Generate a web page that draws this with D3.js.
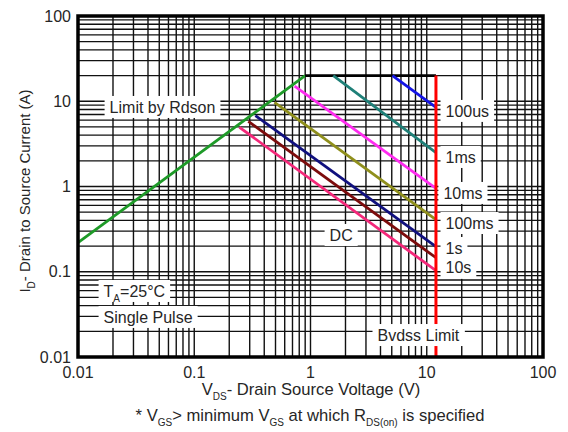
<!DOCTYPE html>
<html>
<head>
<meta charset="utf-8">
<script src="https://cdn.jsdelivr.net/npm/d3@7"></script>
<style>
	body { margin: 0; background: #fff; }
	text { font-family: "Liberation Sans", Arial, sans-serif; fill: #262626; }
</style>
</head>
<body>
<svg id="chart" width="568" height="432"></svg>
<script>
// decade ticks for both log axes
const decades = [0.01, 0.1, 1, 10, 100],
	tick_labels = ["0.01", "0.1", "1", "10", "100"];

// Rds(on) limit line (V, A)
const rdson_v = [0.01, 0.9],
	rdson_i = [0.22, 20];

// package current limit
const limit_v = [0.9, 12],
	limit_i = [20, 20];

// breakdown voltage
const bvdss = 12;

// pulse lines: start (v0, i0) and end at bvdss (i1)
const pulse_names = ["100us", "1ms", "10ms", "100ms", "1s", "10s", "DC"],
	pulse_v0 = [5.07, 1.57, 0.73, 0.49, 0.336, 0.292, 0.245],
	pulse_i0 = [20, 20, 15, 9.7, 6.8, 5.8, 4.95],
	pulse_i1 = [8.5, 2.5, 0.95, 0.41, 0.197, 0.146, 0.103],
	pulse_colors = ["#1414e6", "#1f8078", "#ff2cf0", "#8f8f1c", "#10107e", "#7c0c0c", "#f4287a"];

// in-plot annotations, anchored in data units (left edge, middle)
const notes = [
	{text: "Limit by Rdson", v: 0.0187, i: 8.57},
	{text: "100us", v: 14.5, i: 7.7},
	{text: "1ms", v: 14.5, i: 2.22},
	{text: "10ms", v: 13.9, i: 0.84},
	{text: "100ms", v: 14.5, i: 0.373},
	{text: "1s", v: 14.5, i: 0.19},
	{text: "10s", v: 14.5, i: 0.111},
	{text: "DC", v: 1.46, i: 0.27},
	{text: "Single Pulse", v: 0.0166, i: 0.0295},
	{text: "Bvdss Limit", v: 3.77, i: 0.0181}
];

const params = {
	left: 78, right: 543, top: 16, bottom: 357,
	grid_width: 1.4,
	curve_width: 2.8,
	font_size: 16
};

const svg = d3.select("#chart");

const x = d3.scaleLog().domain([0.01, 100]).range([params.left, params.right]),
	y = d3.scaleLog().domain([0.01, 100]).range([params.bottom, params.top]);

// minor + major grid values: 1..9 x each decade
function grid_values(lo, hi) {
	let out = [];
	for (let d = lo; d < hi * 0.999; d *= 10) {
		for (let k = 1; k <= 9; k++) out.push(d * k);
	}
	out.push(hi);
	return out;
}
const gx = grid_values(0.01, 100),
	gy = grid_values(0.01, 100);

const grid = svg.append("g").attr("stroke", "#111").attr("stroke-width", params.grid_width);
grid.selectAll("line.v").data(gx).join("line")
	.attr("class", "v")
	.attr("x1", d => x(d)).attr("x2", d => x(d))
	.attr("y1", params.top).attr("y2", params.bottom);
grid.selectAll("line.h").data(gy).join("line")
	.attr("class", "h")
	.attr("y1", d => y(d)).attr("y2", d => y(d))
	.attr("x1", params.left).attr("x2", params.right);

// curves
const line = d3.line().x(d => x(d[0])).y(d => y(d[1]));
const curves = svg.append("g").attr("fill", "none").attr("stroke-width", params.curve_width);

curves.append("path")
	.attr("d", line(rdson_v.map((v, i) => [v, rdson_i[i]])))
	.attr("stroke", "#1e9a28");
curves.append("path")
	.attr("d", line(limit_v.map((v, i) => [v, limit_i[i]])))
	.attr("stroke", "#000");

pulse_names.forEach((name, i) => {
	curves.append("path")
		.attr("d", line([[pulse_v0[i], pulse_i0[i]], [bvdss, pulse_i1[i]]]))
		.attr("stroke", pulse_colors[i]);
});

curves.append("path")
	.attr("d", line([[bvdss, 20], [bvdss, 0.01]]))
	.attr("stroke", "#ff0000")
	.attr("stroke-width", 3);

// plot border
svg.append("rect")
	.attr("x", params.left).attr("y", params.top)
	.attr("width", params.right - params.left)
	.attr("height", params.bottom - params.top)
	.attr("fill", "none").attr("stroke", "#000").attr("stroke-width", 3.5);

// annotations with white boxes behind them
const note_g = svg.append("g");
function add_note(parent, px, py, build) {
	let g = parent.append("g");
	let bg = g.append("rect").attr("fill", "#fff");
	let t = g.append("text")
		.attr("x", px).attr("y", py)
		.attr("dy", "0.35em")
		.attr("font-size", params.font_size);
	build(t);
	let bb = t.node().getBBox();
	bg.attr("x", bb.x - 5).attr("y", py - 11)
		.attr("width", bb.width + 10).attr("height", 22);
	return g;
}

notes.forEach(n => {
	add_note(note_g, x(n.v), y(n.i), t => t.text(n.text));
});

// TA = 25C with subscript
add_note(note_g, x(0.0166), y(0.0595), t => {
	t.append("tspan").text("T");
	t.append("tspan").attr("font-size", 10).attr("dy", 5).text("A");
	t.append("tspan").attr("dy", -5).text("=25°C");
});

// tick labels
svg.append("g").selectAll("text").data(decades).join("text")
	.attr("x", params.left - 7)
	.attr("y", d => y(d))
	.attr("dy", "0.35em")
	.attr("text-anchor", "end")
	.attr("font-size", params.font_size)
	.text((d, i) => tick_labels[i]);

svg.append("g").selectAll("text").data(decades).join("text")
	.attr("x", d => x(d))
	.attr("y", 378)
	.attr("text-anchor", "middle")
	.attr("font-size", params.font_size)
	.text((d, i) => tick_labels[i]);

// axis titles
const xt = svg.append("text")
	.attr("x", 311).attr("y", 395)
	.attr("text-anchor", "middle")
	.attr("font-size", 16.6);
xt.append("tspan").text("V");
xt.append("tspan").attr("font-size", 10).attr("dy", 5).text("DS");
xt.append("tspan").attr("dy", -5).text("- Drain Source Voltage (V)");

const yt = svg.append("text")
	.attr("transform", "translate(30,191) rotate(-90)")
	.attr("text-anchor", "middle")
	.attr("font-size", 15);
yt.append("tspan").text("I");
yt.append("tspan").attr("font-size", 10).attr("dy", 5).text("D");
yt.append("tspan").attr("dy", -5).text("- Drain to Source Current (A)");

// footnote
const ft = svg.append("text")
	.attr("x", 310).attr("y", 421)
	.attr("text-anchor", "middle")
	.attr("font-size", 16.6);
ft.append("tspan").text("* V");
ft.append("tspan").attr("font-size", 10).attr("dy", 5).text("GS");
ft.append("tspan").attr("dy", -5).text("> minimum V");
ft.append("tspan").attr("font-size", 10).attr("dy", 5).text("GS");
ft.append("tspan").attr("dy", -5).text(" at which R");
ft.append("tspan").attr("font-size", 10).attr("dy", 5).text("DS(on)");
ft.append("tspan").attr("dy", -5).text(" is specified");
</script>
</body>
</html>
